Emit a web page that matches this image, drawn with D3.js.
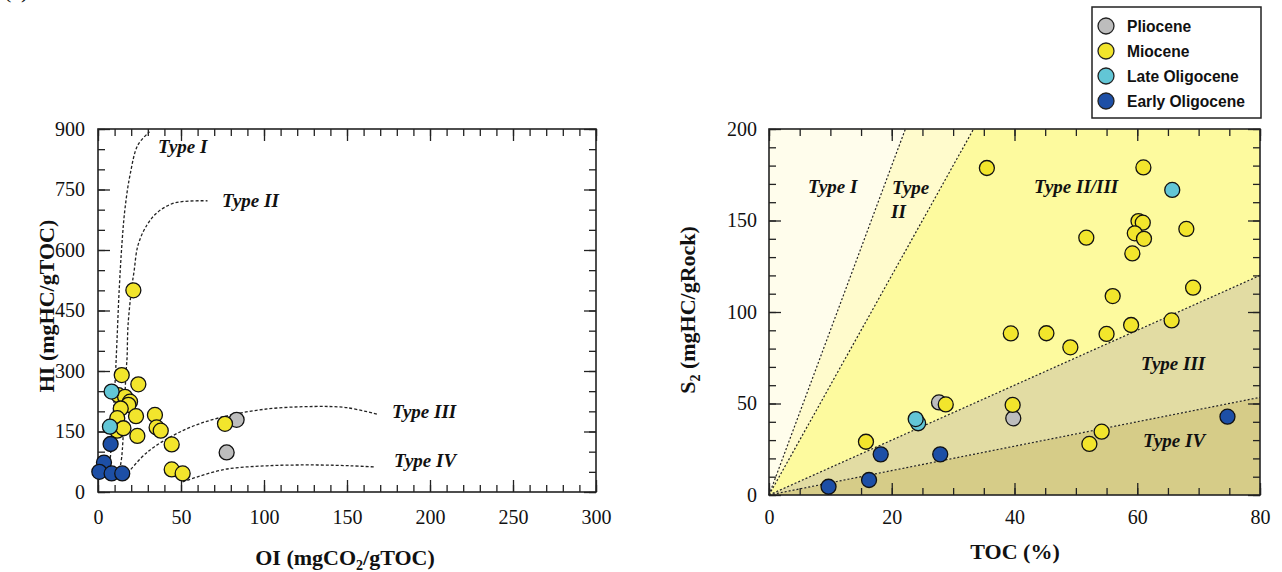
<!DOCTYPE html>
<html>
<head>
<meta charset="utf-8">
<script src="https://cdn.jsdelivr.net/npm/d3@7"></script>
<style>
  body { margin: 0; background: #fff; }
  svg { display: block; }
  .title { font-family: 'Liberation Serif', 'Times New Roman', serif; font-weight: bold; font-size: 22px; fill: #111; }
  .type { font-family: 'Liberation Serif', 'Times New Roman', serif; font-weight: bold; font-style: italic; font-size: 19px; fill: #111; }
  .legend text { font-family: 'Liberation Sans', Arial, sans-serif; font-weight: bold; font-size: 15.6px; fill: #111; }
</style>
</head>
<body>
<svg width="1282" height="572"></svg>
<script>
// groups and colours
var groups = ['Pliocene', 'Miocene', 'Late Oligocene', 'Early Oligocene']
var groupColors = ['#bdbdbd', '#f2e52c', '#62c6d6', '#1d4fa6']

// left plot: OI (x) vs HI (y)
var oiHiPliocene = [[83.5, 179], [77.5, 98]]
var oiHiMiocene = [
  [21.3, 500], [14.3, 290], [24.3, 267], [12.3, 240], [16.3, 236], [19.3, 224],
  [18.3, 216], [13.7, 207], [22.9, 188], [34.3, 191], [11.6, 183], [11.6, 152],
  [15.3, 158], [35.3, 160], [37.8, 152], [23.7, 139], [44.4, 118], [76.5, 169],
  [44.4, 56], [51, 46]
]
var oiHiLateOligocene = [[8.2, 249], [7.2, 162]]
var oiHiEarlyOligocene = [[7.6, 119], [3.6, 73], [0.8, 50], [8.2, 46], [14.6, 46]]

// kerogen type curves on the HI/OI plot
var curveType1 = [[7, 60], [8.2, 129], [10.2, 265], [11.4, 372], [12.7, 496], [14.5, 620], [16.3, 704], [19.3, 786], [24, 860], [31, 893]]
var curveType2 = [[13, 55], [14.3, 87], [16.9, 298], [17.5, 332], [18.1, 414], [20.5, 513], [21.7, 546], [24.1, 612], [29.5, 662], [36, 694], [46.4, 717], [66, 722]]
var curveType3 = [[18, 47], [30, 100], [52, 154], [73, 184], [100, 205], [130, 212], [150, 209], [168, 193]]
var curveType4 = [[51, 25], [75, 55], [102, 65], [132, 67], [152, 65], [167, 62]]

// right plot: TOC (x) vs S2 (y)
var tocS2Pliocene = [[27.7, 50.6], [39.8, 41.9]]
var tocS2Miocene = [
  [39.4, 88.3], [15.8, 29.1], [28.8, 49.5], [39.7, 49.2], [61, 179], [60.2, 149.7],
  [60.9, 148.8], [68, 145.4], [59.6, 143], [61.1, 140], [51.7, 140.6], [59.2, 132],
  [56, 108.7], [69.1, 113.3], [65.6, 95.4], [59, 92.9], [55, 88], [45.2, 88.4],
  [35.5, 178.7], [49.1, 80.7], [54.2, 34.6], [52.2, 27.9]
]
var tocS2LateOligocene = [[24.3, 39.2], [23.9, 41.5], [65.7, 166.7]]
var tocS2EarlyOligocene = [[9.7, 4.5], [16.3, 8.2], [18.2, 22.2], [27.9, 22.2], [74.7, 42.8]]

// boundary slopes (S2 per TOC) between kerogen fields
var fieldSlopes = [9, 6, 1.5, 0.667]
var fieldColors = ['#fffdec', '#fffbcc', '#fdfa9e', '#e2dca3', '#d6cc88']

var svg = d3.select('svg')

// partially cut panel letter
svg.append('text').attr('class', 'title').attr('x', 4).attr('y', -2)
  .style('font-weight', 'normal').text('(a)')

// style the tick marks and labels of an axis group
function styleAxis(g) {
  g.select('.domain').remove()
  g.attr('font-family', null).attr('font-size', null)
  g.selectAll('.tick line').attr('stroke', '#222').attr('stroke-width', 1.3)
  g.selectAll('.tick text')
    .style('font-family', "'Liberation Serif', 'Times New Roman', serif")
    .style('font-size', '20px')
    .attr('fill', '#111')
}

// frame with inward ticks on all four sides
function drawFrame(x, y, xMajor, xMinor, yMajor, yMinor, xPad, yPad) {
  var x0 = x.range()[0], x1 = x.range()[1]
  var y0 = y.range()[0], y1 = y.range()[1]
  var sides = [
    [d3.axisBottom, x, 0, y0, xMajor, xMinor, xPad],
    [d3.axisTop, x, 0, y1, xMajor, xMinor, null],
    [d3.axisLeft, y, x0, 0, yMajor, yMinor, yPad],
    [d3.axisRight, y, x1, 0, yMajor, yMinor, null]
  ]
  sides.forEach(function(s) {
    svg.append('g')
      .attr('transform', 'translate(' + s[2] + ',' + s[3] + ')')
      .call(s[0](s[1]).tickValues(s[5]).tickSize(-7).tickFormat(''))
      .call(styleAxis)
    var major = s[0](s[1]).tickValues(s[4]).tickSize(-12)
    if (s[6] != null) major.tickPadding(s[6])
    else major.tickFormat('')
    svg.append('g')
      .attr('transform', 'translate(' + s[2] + ',' + s[3] + ')')
      .call(major)
      .call(styleAxis)
  })
  svg.append('rect')
    .attr('x', x0).attr('y', y1)
    .attr('width', x1 - x0).attr('height', y0 - y1)
    .attr('fill', 'none').attr('stroke', '#222').attr('stroke-width', 1.6)
}

function drawPoints(x, y, sets) {
  sets.forEach(function(set, i) {
    svg.append('g').selectAll('circle')
      .data(set)
      .enter()
      .append('circle')
      .attr('cx', d => x(d[0]))
      .attr('cy', d => y(d[1]))
      .attr('r', 7.5)
      .attr('fill', groupColors[i])
      .attr('stroke', '#111')
      .attr('stroke-width', 1.3)
  })
}

// ---------- left plot ----------
var xL = d3.scaleLinear().domain([0, 300]).range([98, 596])
var yL = d3.scaleLinear().domain([0, 900]).range([492, 129])

var curveLine = d3.line()
  .x(d => xL(d[0]))
  .y(d => yL(d[1]))
  .curve(d3.curveCatmullRom)

;[curveType1, curveType2, curveType3, curveType4].forEach(function(c) {
  svg.append('path')
    .attr('d', curveLine(c))
    .attr('fill', 'none')
    .attr('stroke', '#222')
    .attr('stroke-width', 1.3)
    .attr('stroke-dasharray', '3,2')
})

drawFrame(xL, yL,
  d3.range(0, 301, 50), d3.range(0, 301, 10),
  d3.range(0, 901, 150), d3.range(0, 901, 50), 18, 13)

svg.append('text').attr('class', 'type').attr('x', 158).attr('y', 153).text('Type I')
svg.append('text').attr('class', 'type').attr('x', 222).attr('y', 207).text('Type II')
svg.append('text').attr('class', 'type').attr('x', 392).attr('y', 418).text('Type III')
svg.append('text').attr('class', 'type').attr('x', 394).attr('y', 467).text('Type IV')

drawPoints(xL, yL, [oiHiPliocene, oiHiMiocene, oiHiLateOligocene, oiHiEarlyOligocene])

var xTitleL = svg.append('text').attr('class', 'title')
  .attr('x', 345).attr('y', 565).attr('text-anchor', 'middle')
xTitleL.append('tspan').text('OI (mgCO')
xTitleL.append('tspan').attr('dy', 5).style('font-size', '14px').text('2')
xTitleL.append('tspan').attr('dy', -5).text('/gTOC)')

svg.append('text').attr('class', 'title')
  .attr('transform', 'translate(54,306) rotate(-90)')
  .attr('text-anchor', 'middle')
  .text('HI (mgHC/gTOC)')

// ---------- right plot ----------
var xR = d3.scaleLinear().domain([0, 80]).range([769, 1260])
var yR = d3.scaleLinear().domain([0, 200]).range([495, 129])

// field polygons bounded by the lines through the origin
function edgePoint(slope) {
  return slope * 80 >= 200 ? [200 / slope, 200] : [80, slope * 80]
}
var bounds = [[0, 200]].concat(fieldSlopes.map(edgePoint)).concat([[80, 0]])
var corners = [[0, 200], [80, 200], [80, 0]]
fieldColors.forEach(function(col, i) {
  var a = bounds[i], b = bounds[i + 1]
  var pts = [[0, 0], a]
  corners.forEach(function(c) {
    // corners lying between the two edge points, going clockwise
    var ang = Math.atan2(c[1], c[0])
    if (ang < Math.atan2(a[1], a[0]) && ang > Math.atan2(b[1], b[0])) pts.push(c)
  })
  pts.push(b)
  svg.append('polygon')
    .attr('points', pts.map(p => xR(p[0]) + ',' + yR(p[1])).join(' '))
    .attr('fill', col)
})

fieldSlopes.forEach(function(s) {
  var e = edgePoint(s)
  svg.append('line')
    .attr('x1', xR(0)).attr('y1', yR(0))
    .attr('x2', xR(e[0])).attr('y2', yR(e[1]))
    .attr('stroke', '#222')
    .attr('stroke-width', 1.2)
    .attr('stroke-dasharray', '2,2')
})

drawFrame(xR, yR,
  d3.range(0, 81, 20), d3.range(0, 81, 5),
  d3.range(0, 201, 50), d3.range(0, 201, 10), 15, 12)

svg.append('text').attr('class', 'type').attr('x', 808).attr('y', 193).text('Type I')
svg.append('text').attr('class', 'type').attr('x', 892).attr('y', 194).text('Type')
svg.append('text').attr('class', 'type').attr('x', 891).attr('y', 218).text('II')
svg.append('text').attr('class', 'type').attr('x', 1034).attr('y', 193).text('Type II/III')
svg.append('text').attr('class', 'type').attr('x', 1141).attr('y', 370).text('Type III')
svg.append('text').attr('class', 'type').attr('x', 1143).attr('y', 447).text('Type IV')

drawPoints(xR, yR, [tocS2Pliocene, tocS2Miocene, tocS2LateOligocene, tocS2EarlyOligocene])

svg.append('text').attr('class', 'title')
  .attr('x', 1015).attr('y', 559).attr('text-anchor', 'middle')
  .text('TOC (%)')

var yTitleR = svg.append('text').attr('class', 'title')
  .attr('transform', 'translate(695,310) rotate(-90)')
  .attr('text-anchor', 'middle')
yTitleR.append('tspan').text('S')
yTitleR.append('tspan').attr('dy', 5).style('font-size', '14px').text('2')
yTitleR.append('tspan').attr('dy', -5).text(' (mgHC/gRock)')

// ---------- legend ----------
var legend = svg.append('g').attr('class', 'legend')
legend.append('rect')
  .attr('x', 1092).attr('y', 7).attr('width', 169).attr('height', 111)
  .attr('fill', '#fff').attr('stroke', '#222').attr('stroke-width', 1.5)
var row = d3.scalePoint().domain(groups).range([26, 101])
groups.forEach(function(g, i) {
  legend.append('circle')
    .attr('cx', 1106).attr('cy', row(g)).attr('r', 8)
    .attr('fill', groupColors[i]).attr('stroke', '#222').attr('stroke-width', 1.3)
  legend.append('text')
    .attr('x', 1127).attr('y', row(g)).attr('dy', '0.36em')
    .text(g)
})
</script>
</body>
</html>
